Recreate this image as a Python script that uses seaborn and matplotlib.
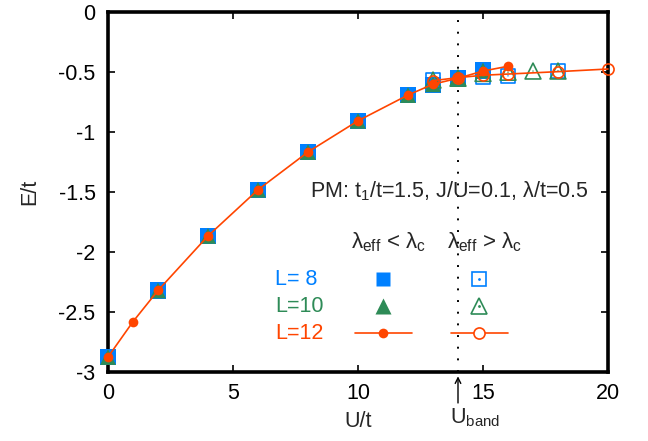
import matplotlib
matplotlib.use("Agg")
import matplotlib.pyplot as plt
import seaborn as sns
import pandas as pd

# ---- data ----
U_L8_fill = [0, 2, 4, 6, 8, 10, 12, 13, 14, 15]
E_L8_fill = [-2.875, -2.32, -1.865, -1.48, -1.165, -0.905, -0.69, -0.605, -0.55, -0.485]
U_L8_open = [13, 14, 15, 16, 18]
E_L8_open = [-0.57, -0.555, -0.54, -0.53, -0.49]

U_L10_fill = [0, 2, 4, 6, 8, 10, 12, 13, 14, 15]
E_L10_fill = [-2.875, -2.32, -1.865, -1.48, -1.165, -0.905, -0.69, -0.6, -0.545, -0.485]
U_L10_open = [13, 14, 15, 16, 17, 18]
E_L10_open = [-0.565, -0.55, -0.51, -0.5, -0.49, -0.49]

U_L12_fill = [0, 1, 2, 4, 6, 8, 10, 12, 13, 14, 15, 16]
E_L12_fill = [-2.875, -2.58, -2.32, -1.865, -1.48, -1.165, -0.905, -0.69, -0.6, -0.55, -0.49, -0.45]
U_L12_open = [13, 14, 15, 16, 18, 20]
E_L12_open = [-0.57, -0.545, -0.525, -0.515, -0.495, -0.473]

U_band = 14
x_ticks = [0, 5, 10, 15, 20]
y_ticks = [0, -0.5, -1, -1.5, -2, -2.5, -3]
y_tick_labels = ["0", "-0.5", "-1", "-1.5", "-2", "-2.5", "-3"]
legend_labels = ["L= 8", "L=10", "L=12"]

BLUE = "#0080FF"
GREEN = "#2E8B57"
ORANGE = "#FF4500"

sns.set_style("ticks")
plt.rcParams["font.family"] = ["Liberation Sans", "DejaVu Sans"]
plt.rcParams["mathtext.fontset"] = "custom"
plt.rcParams["mathtext.rm"] = "Liberation Sans"
plt.rcParams["mathtext.it"] = "Liberation Sans"
FS = 15.5

fig = plt.figure(figsize=(6.48, 4.41), dpi=100)
ax = fig.add_axes([108/648, 1-372/441, 500/648, (372-12.3)/441])

d8f = pd.DataFrame({"U": U_L8_fill, "E": E_L8_fill})
d8o = pd.DataFrame({"U": U_L8_open, "E": E_L8_open})
d10f = pd.DataFrame({"U": U_L10_fill, "E": E_L10_fill})
d10o = pd.DataFrame({"U": U_L10_open, "E": E_L10_open})
d12f = pd.DataFrame({"U": U_L12_fill, "E": E_L12_fill})
d12o = pd.DataFrame({"U": U_L12_open, "E": E_L12_open})

# vertical dotted line
ax.axvline(U_band, color="black", lw=1.4, ls=(0, (1, 5)), zorder=1)

# squares
sns.scatterplot(data=d8f, x="U", y="E", ax=ax, marker="s", s=140, color=BLUE,
                edgecolor="none", zorder=3, legend=False, clip_on=False)
sns.scatterplot(data=d8o, x="U", y="E", ax=ax, marker="s", s=110, facecolor="none",
                edgecolor=BLUE, linewidth=1.2, zorder=3.1, legend=False, clip_on=False)
sns.scatterplot(data=d8o, x="U", y="E", ax=ax, marker=".", s=4, color=BLUE,
                edgecolor="none", zorder=3.1, legend=False, clip_on=False)
# triangles
sns.scatterplot(data=d10f, x="U", y="E", ax=ax, marker="^", s=130, color=GREEN,
                edgecolor="none", zorder=4, legend=False, clip_on=False)
sns.scatterplot(data=d10o, x="U", y="E", ax=ax, marker="^", s=130, facecolor="none",
                edgecolor=GREEN, linewidth=1.2, zorder=4.1, legend=False, clip_on=False)
sns.scatterplot(data=d10o, x="U", y="E", ax=ax, marker=".", s=4, color=GREEN,
                edgecolor="none", zorder=4.1, legend=False, clip_on=False)
# circles + lines
sns.lineplot(data=d12f, x="U", y="E", ax=ax, color=ORANGE, lw=1.2, marker="o",
             markersize=7, markeredgewidth=0, zorder=5, sort=False, legend=False,
             clip_on=False)
sns.lineplot(data=d12o, x="U", y="E", ax=ax, color=ORANGE, lw=1.2, marker="o",
             markersize=8, markerfacecolor="none", markeredgecolor=ORANGE,
             markeredgewidth=1.2, zorder=5, sort=False, legend=False, clip_on=False)

ax.set_xlim(0, 20)
ax.set_ylim(-3, 0)
ax.set_xticks(x_ticks)
ax.set_xticklabels([str(t) for t in x_ticks])
ax.set_yticks(y_ticks)
ax.set_yticklabels(y_tick_labels)
ax.tick_params(direction="in", length=5, width=1.2, labelsize=FS,
               top=True, right=True, colors="black")
ax.tick_params(axis="x", pad=8)
ax.tick_params(axis="y", pad=9)
for sp in ax.spines.values():
    sp.set_linewidth(2.6)
    sp.set_color("black")
    sp.set_visible(True)
    sp.set_zorder(2)

ax.set_xlabel("U/t", fontsize=FS)
ax.set_ylabel("E/t", fontsize=FS)
ax.xaxis.set_label_coords(0.5, (372-411)/360)
ax.yaxis.set_label_coords((40-108)/500, 0.5)

def fx(px):
    return (px - 108) / 500

def fy(py):
    return (372 - py) / 360

T = ax.transAxes
ax.text(fx(310), fy(191), r"PM: t$_1$/t=1.5, J/U=0.1, $\lambda$/t=0.5",
        transform=T, fontsize=FS, ha="left", va="center")
ax.text(fx(388), fy(242), r"$\lambda_\mathrm{eff}$ < $\lambda_\mathrm{c}$",
        transform=T, fontsize=FS + 0.5, ha="center", va="center")
ax.text(fx(484), fy(242), r"$\lambda_\mathrm{eff}$ > $\lambda_\mathrm{c}$",
        transform=T, fontsize=FS + 0.5, ha="center", va="center")

rows_y = [279, 306, 333]
colors = [BLUE, GREEN, ORANGE]
for lab, yy, c in zip(legend_labels, rows_y, colors):
    ax.text(fx(275), fy(yy), lab, transform=T, fontsize=FS, color=c,
            ha="left", va="center")
# legend markers
ax.plot([fx(383)], [fy(279)], transform=T, marker="s", ms=10, color=BLUE, mec="none", ls="none", clip_on=False)
ax.plot([fx(479)], [fy(279)], transform=T, marker="s", ms=10, mfc="none", mec=BLUE, mew=1.2, ls="none", clip_on=False)
ax.plot([fx(479)], [fy(279)], transform=T, marker=".", ms=2, color=BLUE, ls="none", clip_on=False)
ax.plot([fx(383)], [fy(306)], transform=T, marker="^", ms=11, color=GREEN, mec="none", ls="none", clip_on=False)
ax.plot([fx(479)], [fy(306)], transform=T, marker="^", ms=11, mfc="none", mec=GREEN, mew=1.2, ls="none", clip_on=False)
ax.plot([fx(479)], [fy(306)], transform=T, marker=".", ms=2, color=GREEN, ls="none", clip_on=False)
ax.plot([fx(355), fx(412)], [fy(333), fy(333)], transform=T, color=ORANGE, lw=1.2)
ax.plot([fx(383)], [fy(333)], transform=T, marker="o", ms=7, color=ORANGE, mec="none", ls="none")
ax.plot([fx(451), fx(508)], [fy(333), fy(333)], transform=T, color=ORANGE, lw=1.2)
ax.plot([fx(479)], [fy(333)], transform=T, marker="o", ms=8, mfc="white", mec=ORANGE, mew=1.2, ls="none", zorder=6)

# U_band arrow and label
ax.annotate("", xy=(U_band, -0.012), xycoords=("data", "axes fraction"),
            xytext=(U_band, fy(403)), textcoords=("data", "axes fraction"),
            arrowprops=dict(arrowstyle="->", color="black", lw=1.0,
                            shrinkA=0, shrinkB=0, mutation_scale=10),
            annotation_clip=False)
ax.text(fx(450), fy(406), r"U$_\mathrm{band}$", transform=T, fontsize=FS,
        ha="left", va="top", clip_on=False)

fig.savefig("out.png", dpi=100)
